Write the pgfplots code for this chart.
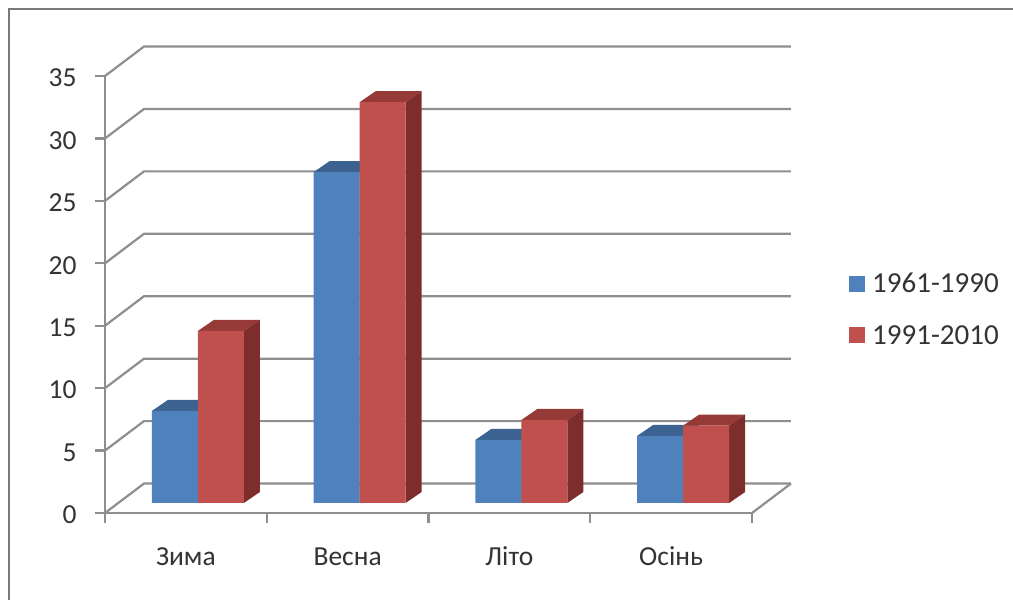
\documentclass[border=0pt]{standalone}
\usepackage{pgfplots}
\pgfplotsset{compat=1.18}
\usepackage{fontspec}
\setmainfont{Carlito}

\definecolor{barblue}{HTML}{4F81BD}
\definecolor{bluetop}{HTML}{3B6291}
\definecolor{bluedark}{HTML}{2F4F76}
\definecolor{barred}{HTML}{C0504D}
\definecolor{redtop}{HTML}{963A38}
\definecolor{reddark}{HTML}{7D2E2C}
\definecolor{gridgray}{HTML}{8E8E8E}
\definecolor{labelgray}{HTML}{333333}

% Top and side faces of a bar: #1 left x, #2 value, #3 top colour, #4 side colour
\newcommand{\depthfaces}[4]{%
  \addplot[forget plot, draw=none, fill=#3] coordinates
    {({#1},{#2}) ({#1+0.2844},{#2}) ({#1+0.3833},{#2+0.881}) ({#1+0.0989},{#2+0.881})} --cycle;
  \addplot[forget plot, draw=none, fill=#4] coordinates
    {({#1+0.2844},0) ({#1+0.3833},0.881) ({#1+0.3833},{#2+0.881}) ({#1+0.2844},{#2})} --cycle;
}

\begin{document}
\begin{tikzpicture}[x=1pt,y=1pt]
\path[use as bounding box] (0,0) rectangle (1013,600);
% Chart frame
\draw[gridgray!85!black, line width=1.8pt] (9,0) -- (9,591) -- (1013,591);

% Walls, floor and value axis
\begin{axis}[
  at={(105pt,87pt)}, anchor=origin,
  scale only axis, width=647pt, height=437pt,
  xmin=0.5, xmax=4.5, ymin=0, ymax=35,
  clip=false,
  axis x line*=bottom, axis y line*=left,
  axis line style={gridgray, line width=2.2pt, -},
  every tick/.style={gridgray, line width=2.2pt},
  xtick={1,2,3,4},
  xticklabels={Зима,Весна,Літо,Осінь},
  major x tick style={draw=none},
  minor xtick={0.5,1.5,2.5,3.5,4.5},
  minor tick length=10pt,
  ytick={0,5,...,35},
  tick align=outside,
  major tick length=10pt,
  /pgf/number format/assume math mode=true,
  tick label style={font=\fontsize{27.5}{30}\selectfont, text=labelgray},
  yticklabel style={xshift=-15pt, yshift=-2pt},
  xticklabel style={anchor=base, yshift=-42pt},
]
\pgfplotsinvokeforeach{0,5,...,35}{
  \addplot[gridgray, line width=2.2pt] coordinates
    {(0.5,#1) (0.741,{#1+2.36}) (4.741,{#1+2.36})};
}
\addplot[gridgray, line width=2.2pt] coordinates {(4.5,0) (4.741,2.36)};
\end{axis}

% Bars stand a little way back on the floor
\begin{axis}[
  at={(117pt,97pt)}, anchor=origin,
  scale only axis, width=647pt, height=437pt,
  xmin=0.5, xmax=4.5, ymin=0, ymax=35,
  clip=false, hide axis,
  legend image code/.code={\fill[#1] (0pt,-8pt) rectangle (16pt,8pt);},
  legend style={
    at={(732pt,232pt)}, anchor=north west, legend cell align=left,
    draw=none, fill=none,
    font=\fontsize{29}{32}\selectfont, text=labelgray,
    row sep=27pt, inner sep=0pt,
    /tikz/column 1/.style={column sep=5pt},
  },
]
\depthfaces{0.7156}{7.37}{bluetop}{bluedark}
\depthfaces{1.7156}{26.5}{bluetop}{bluedark}
\depthfaces{2.7156}{5.05}{bluetop}{bluedark}
\depthfaces{3.7156}{5.37}{bluetop}{bluedark}
\addplot[ybar, bar width=46pt, bar shift=-23pt, draw=none, fill=barblue]
  coordinates {(1,7.37) (2,26.5) (3,5.05) (4,5.37)};
\addlegendentry{1961-1990}
\depthfaces{1}{13.78}{redtop}{reddark}
\depthfaces{2}{32.1}{redtop}{reddark}
\depthfaces{3}{6.65}{redtop}{reddark}
\depthfaces{4}{6.2}{redtop}{reddark}
\addplot[ybar, bar width=46pt, bar shift=23pt, draw=none, fill=barred]
  coordinates {(1,13.78) (2,32.1) (3,6.65) (4,6.2)};
\addlegendentry{1991-2010}
\end{axis}
\end{tikzpicture}
\end{document}
